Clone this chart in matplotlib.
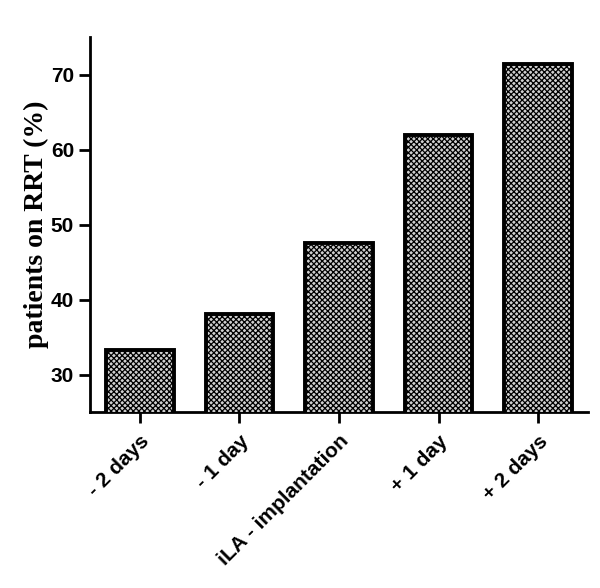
import matplotlib.pyplot as plt

categories = ["- 2 days", "- 1 day", "iLA - implantation", "+ 1 day", "+ 2 days"]
values = [33.3, 38.1, 47.6, 61.9, 71.4]
yticks = [30, 40, 50, 60, 70]

plt.rcParams["hatch.linewidth"] = 0.9
plt.rcParams["hatch.color"] = "#202020"

fig = plt.figure(figsize=(6, 5.88), dpi=100)
ax = fig.add_axes([0.15, 0.299, 0.83, 0.638])

x = list(range(len(categories)))
ax.bar(x, values, width=0.68, bottom=0, color="#d0d0d0", edgecolor="black",
       linewidth=2.8, hatch="xxxxxx", zorder=3)

ax.set_xlim(-0.5, 4.5)
ax.set_ylim(25, 75)
ax.set_yticks(yticks)
ax.set_xticks(x)
ax.set_xticklabels(categories, rotation=45, ha="right", rotation_mode="anchor",
                   fontsize=15, fontweight="bold", family="Liberation Sans")
for lab in ax.get_yticklabels():
    lab.set_fontsize(15)
    lab.set_fontweight("bold")
    lab.set_family("Liberation Sans")

ax.spines["top"].set_visible(False)
ax.spines["right"].set_visible(False)
ax.spines["left"].set_linewidth(2)
ax.spines["bottom"].set_linewidth(2)
ax.tick_params(axis="both", width=2, length=8)
ax.tick_params(axis="x", pad=6)
ax.set_ylabel("patients on RRT (%)", fontsize=20, fontweight="bold",
              family="Liberation Serif", labelpad=1)

fig.savefig("out.png", dpi=100)
